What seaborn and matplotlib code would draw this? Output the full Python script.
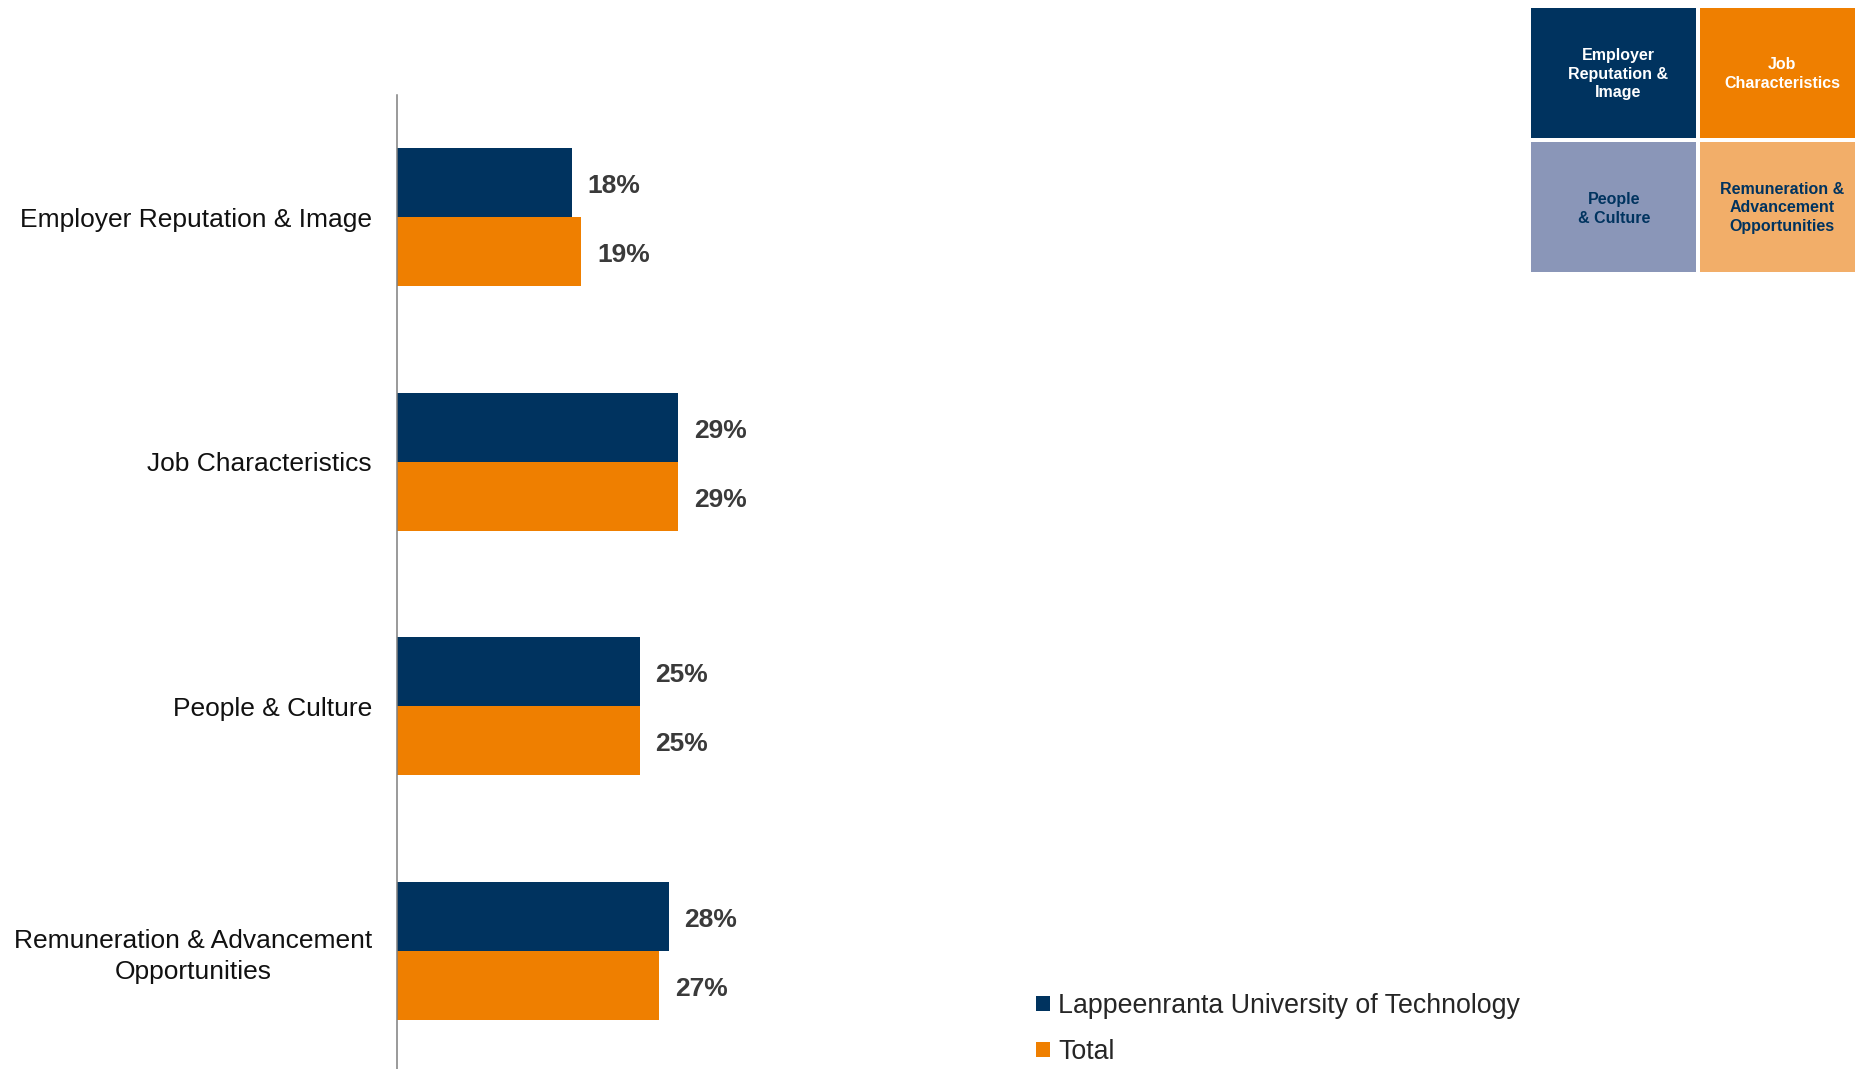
import matplotlib
matplotlib.use("Agg")
import matplotlib.pyplot as plt
from matplotlib.patches import Rectangle
import seaborn as sns
import pandas as pd

# Driver categories and shares (%)
categories = [
    "Employer Reputation & Image",
    "Job Characteristics",
    "People & Culture",
    "Remuneration & Advancement\nOpportunities",
]
series_names = ["Lappeenranta University of Technology", "Total"]
lut_values = [18, 29, 25, 28]
total_values = [19, 29, 25, 27]

# Quadrant key labels
quad_labels = [
    "Employer\nReputation &\nImage",
    "Job\nCharacteristics",
    "People\n& Culture",
    "Remuneration &\nAdvancement\nOpportunities",
]

NAVY = "#00335F"
ORANGE = "#EF7F00"
LAVENDER = "#8A96B8"
LIGHT_ORANGE = "#F2AE69"
LABEL_GREY = "#3A3A3A"

df = pd.DataFrame({
    "category": categories * 2,
    "share": lut_values + total_values,
    "series": [series_names[0]] * 4 + [series_names[1]] * 4,
})

sns.set_theme(style="white")
plt.rcParams["font.family"] = ["Liberation Sans", "DejaVu Sans"]

W, H = 1855, 1069
fig = plt.figure(figsize=(W / 100, H / 100), dpi=100)
ax = fig.add_axes([397 / W, -4 / H, 970 / W, (H + 4 - 95) / H])

sns.barplot(
    data=df, y="category", x="share", hue="series", orient="h",
    palette=[NAVY, ORANGE], saturation=1, width=0.565, linewidth=0, ax=ax,
)

for cont, vals in zip(ax.containers, [lut_values, total_values]):
    anns = ax.bar_label(cont, labels=[f"{v}%" for v in vals], padding=11.5,
                        fontsize=19, fontweight="bold", color=LABEL_GREY)
    for a in anns:
        a.xyann = (11.5, -2.5)

ax.set_xlim(0, 100)
ax.set_ylim(3.5, -0.5)
ax.set_xlabel("")
ax.set_ylabel("")
ax.set_xticks([])
for s in ["top", "right", "bottom"]:
    ax.spines[s].set_visible(False)
ax.spines["left"].set_color("#7F7F7F")
ax.spines["left"].set_linewidth(1.1)
ax.tick_params(axis="y", length=0, pad=18, labelsize=19, labelcolor="#111111")
for t in ax.get_yticklabels():
    t.set_multialignment("center")
    t.set_linespacing(1.36)

sns.move_legend(
    ax, "center left", bbox_to_anchor=(1036 / W, 1 - 1029 / H),
    bbox_transform=fig.transFigure, frameon=False, title=None,
    fontsize=19.3, handlelength=0.52, handleheight=0.52, handletextpad=0.3,
    labelspacing=0.75, borderpad=0, borderaxespad=0,
)

# Quadrant key in the top right corner
boxes = [
    (1531, 8, NAVY, "white", 1618, 74),
    (1700, 8, ORANGE, "white", 1782, 74),
    (1531, 142, LAVENDER, NAVY, 1614, 209),
    (1700, 142, LIGHT_ORANGE, NAVY, 1782, 208),
]
bw, bh = 165, 130
for (x0, y0, fc, tc, tx, ty), lab in zip(boxes, quad_labels):
    fig.patches.append(Rectangle((x0 / W, 1 - (y0 + bh) / H), bw / W, bh / H,
                                 transform=fig.transFigure, facecolor=fc,
                                 edgecolor="none", zorder=0))
    fig.text(tx / W, 1 - ty / H, lab, ha="center", va="center",
             fontsize=11.5, fontweight="bold", color=tc, linespacing=1.27)

fig.savefig("out.png", dpi=100)
